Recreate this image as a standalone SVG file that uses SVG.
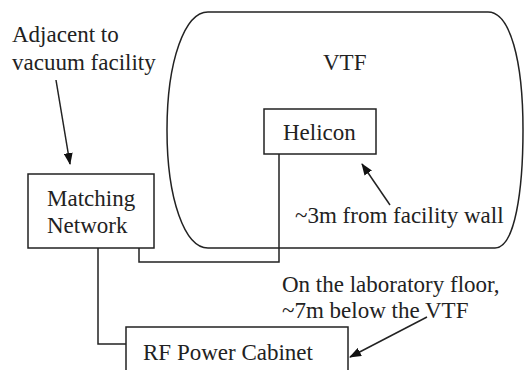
<svg xmlns="http://www.w3.org/2000/svg" width="525" height="370" viewBox="0 0 525 370">
<style>
  .ln{fill:none;stroke:#222;stroke-width:1.5}
  .bx{fill:#fff;stroke:#222;stroke-width:1.5}
  .t{font-size:23px;fill:#222}
</style>
<defs>
  <marker id="ah" markerWidth="12" markerHeight="9" refX="11" refY="4.5" orient="auto" markerUnits="userSpaceOnUse">
    <path d="M0,0 L12,4.5 L0,9 Z" fill="#111"/>
  </marker>
</defs>
<rect width="525" height="370" fill="#fff"/>
<g font-family="Liberation Serif">
<g id="vtf">
  <path class="ln" d="M208,12 H488 C510,12 523,60 523,130 C523,190 515,248 495,248 H208 C185,248 167,200 167,130 C167,60 185,12 208,12 Z"/>
  <text class="t" x="323" y="70">VTF</text>
</g>
<g id="connectors">
  <path class="ln" d="M98,248 V344 H126"/>
  <path class="ln" d="M139,248 V262 H279 V150"/>
  <line class="ln" x1="56" y1="80" x2="70" y2="164" marker-end="url(#ah)"/>
  <line class="ln" x1="390" y1="205" x2="362" y2="164" marker-end="url(#ah)"/>
  <line class="ln" x1="427" y1="317" x2="350" y2="357" marker-end="url(#ah)"/>
</g>
<g id="matching">
  <rect class="bx" x="28" y="174" width="126" height="74"/>
  <text class="t" x="47" y="206">Matching</text>
  <text class="t" x="47" y="233">Network</text>
</g>
<g id="helicon">
  <rect class="bx" x="264" y="109" width="112" height="45"/>
  <text class="t" x="283" y="140">Helicon</text>
</g>
<g id="rf">
  <rect class="bx" x="126" y="327" width="222" height="60"/>
  <text class="t" x="143" y="360">RF Power Cabinet</text>
</g>
<g id="labels">
  <text class="t" x="12" y="42">Adjacent to</text>
  <text class="t" x="12" y="70">vacuum facility</text>
  <text class="t" x="295" y="223">~3m from facility wall</text>
  <text class="t" x="282" y="292">On the laboratory floor,</text>
  <text class="t" x="282" y="318">~7m below the VTF</text>
</g>
</g>
</svg>
